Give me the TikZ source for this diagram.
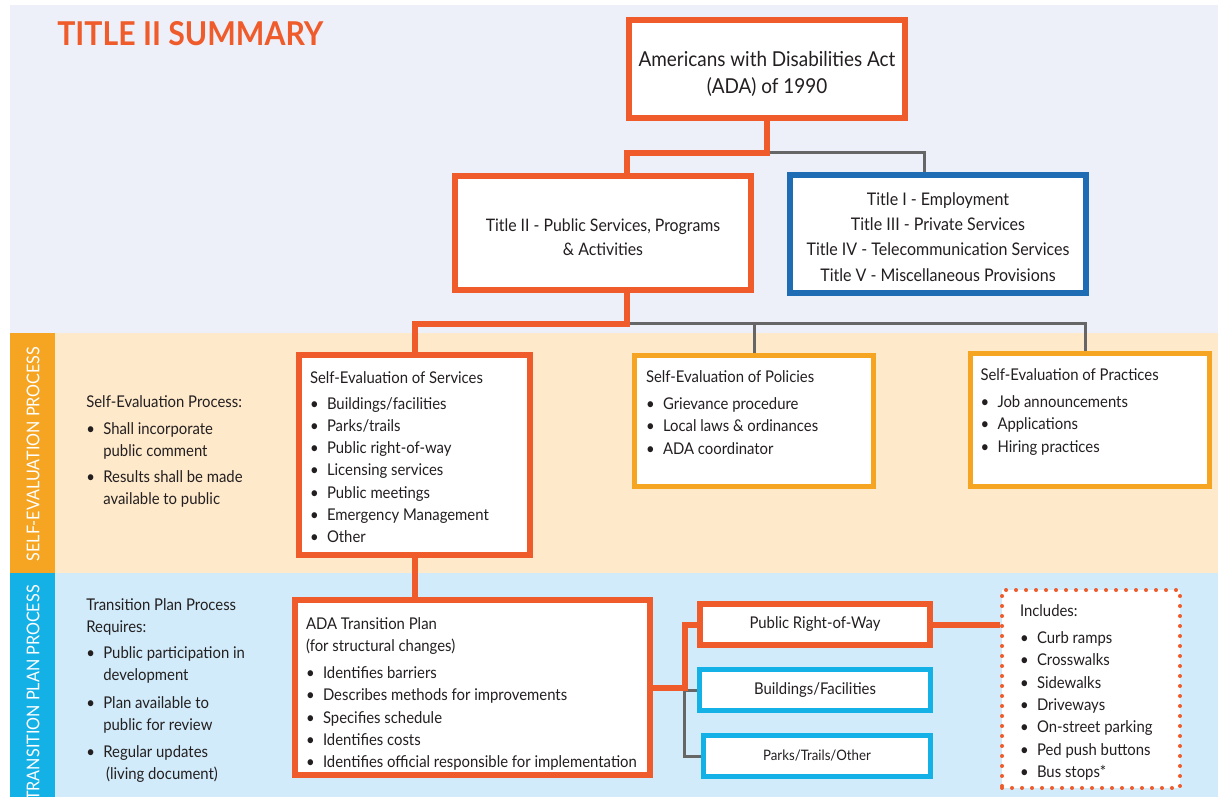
\documentclass[tikz,border=0pt]{standalone}
\usepackage{fontspec}
\setmainfont{Lato}[FakeStretch=0.92]
\usetikzlibrary{calc}

\definecolor{adaorange}{HTML}{EF5B2B}
\definecolor{adablue}{HTML}{1E6DB4}
\definecolor{adacyan}{HTML}{14B1E7}
\definecolor{adayellow}{HTML}{F6A523}
\definecolor{adagray}{HTML}{666666}
\definecolor{adatext}{HTML}{231F20}
\definecolor{bandtop}{HTML}{EDF0F8}
\definecolor{bandself}{HTML}{FEE9CB}
\definecolor{bandplan}{HTML}{D1EBFA}

\pgfdeclarelayer{back}
\pgfdeclarelayer{lines}
\pgfsetlayers{back,lines,main}

\newcommand{\bodysize}{\fontsize{9.2}{12.7}\selectfont}
\newcommand{\itm}{\makebox[0.34cm][l]{\textbullet}}
\newcommand{\gap}{\hspace*{0.34cm}}
\newcommand{\topbox}[4][0pt]{\parbox[t][#3][t]{#2}{\raggedright\vspace*{#1}#4}}
\newcommand{\midbox}[3]{\raisebox{#1}[\height][\depth]{\parbox{#2}{\centering #3}}}

\tikzset{
  obox/.style={draw=adaorange, line width=0.12cm, fill=white, text=adatext, font=\bodysize},
  bbox/.style={draw=adablue, line width=0.12cm, fill=white, text=adatext, font=\bodysize},
  ybox/.style={draw=adayellow, line width=0.1cm, fill=white, text=adatext, font=\bodysize},
  cbox/.style={draw=adacyan, line width=0.1cm, fill=white, text=adatext, font=\bodysize},
  dotbox/.style={draw=adaorange, line width=0.08cm, dash pattern=on 0pt off 0.2cm, line cap=round, fill=white, text=adatext, font=\bodysize},
  oline/.style={draw=adaorange, line width=0.12cm},
  gline/.style={draw=adagray, line width=0.06cm},
  sidetext/.style={text=white, rotate=90, inner sep=0pt, font=\fontsize{10}{12}\selectfont},
  notes/.style={anchor=north west, align=left, inner sep=0pt, text=adatext, font=\fontsize{9.2}{12.5}\selectfont},
}

\begin{document}
\begin{tikzpicture}[x=0.02cm,y=-0.02cm]
\useasboundingbox (0,0) rectangle (1218,797);
\begin{pgfonlayer}{back}
\fill[bandtop] (10,5) rectangle (1218,333);
\fill[bandself] (10,333) rectangle (1218,573);
\fill[bandplan] (10,573) rectangle (1218,797);
\fill[adayellow] (10,333) rectangle (55,573);
\fill[adacyan] (10,573) rectangle (55,797);
\end{pgfonlayer}

\node[sidetext] (sideself) at (33,454) {SELF-EVALUATION PROCESS};
\begin{scope}
\clip (10,573) rectangle (55,797);
\node[sidetext] (sideplan) at (33,693) {TRANSITION PLAN PROCESS};
\end{scope}

\node[anchor=west, inner sep=0pt, text=adaorange, font=\fontsize{18.7}{20}\selectfont\bfseries] (title) at (57,34) {TITLE II SUMMARY};

\node[obox, minimum width=5.52cm, minimum height=1.96cm, font=\fontsize{11.7}{15.3}\selectfont] (ada) at (767,69)
  {\midbox{-0.1cm}{5.2cm}{Americans with Disabilities Act\\(ADA) of 1990}};
\node[obox, minimum width=5.92cm, minimum height=2.28cm, font=\fontsize{9.8}{13.8}\selectfont] (t2) at (603,233)
  {\midbox{-0.09cm}{5.6cm}{Title II - Public Services, Programs\\\& Activities}};
\node[bbox, minimum width=5.92cm, minimum height=2.36cm, font=\fontsize{9.9}{14.4}\selectfont] (others) at (938,234)
  {\midbox{-0.06cm}{5.6cm}{Title I - Employment\\Title III - Private Services\\Title IV - Telecommunication Services\\Title V - Miscellaneous Provisions}};

\node[obox, inner xsep=0.22cm, inner ysep=0.28cm, font=\fontsize{9.2}{12.55}\selectfont] (svc) at (414.5,455) {\topbox[1.6pt]{4.18cm}{3.44cm}{Self-Evaluation of Services\\[2.3pt]
  \itm Buildings/facilities\\ \itm Parks/trails\\ \itm Public right-of-way\\ \itm Licensing services\\
  \itm Public meetings\\ \itm Emergency Management\\ \itm Other}};
\node[ybox, inner xsep=0.23cm, inner ysep=0.28cm] (pol) at (754,421) {\topbox[0.8pt]{4.32cm}{2.06cm}{Self-Evaluation of Policies\\[2.5pt]
  \itm Grievance procedure\\ \itm Local laws \& ordinances\\ \itm ADA coordinator}};
\node[ybox, inner xsep=0.2cm, inner ysep=0.26cm] (prac) at (1090,420) {\topbox[1.4pt]{4.38cm}{2.14cm}{Self-Evaluation of Practices\\[2.5pt]
  \itm Job announcements\\ \itm Applications\\ \itm Hiring practices}};

\node[notes] (selfnote) at (86,395.5) {Self-Evaluation Process:\\[2.5pt]
  \itm Shall incorporate\\ \gap public comment\\[2.5pt]
  \itm Results shall be made\\ \gap available to public};

\node[obox, inner xsep=0.22cm, inner ysep=0.28cm] (plan) at (472.5,687.5) {\topbox[2pt]{6.66cm}{2.94cm}{ADA Transition Plan\\(for structural changes)\\[2.5pt]
  \itm Identifies barriers\\ \itm Describes methods for improvements\\ \itm Specifies schedule\\
  \itm Identifies costs\\ \itm Identifies official responsible for implementation}};

\node[notes] (plannote) at (86,598) {Transition Plan Process\\Requires:\\[2.5pt]
  \itm Public participation in\\ \gap development\\[3.2pt]
  \itm Plan available to\\ \gap public for review\\[3.2pt]
  \itm Regular updates\\ \gap\,(living document)};

\node[obox, minimum width=4.6cm, minimum height=0.82cm] (prw) at (815,624.5) {Public Right-of-Way};
\node[cbox, minimum width=4.62cm, minimum height=0.82cm] (bld) at (815,690) {Buildings/Facilities};
\node[cbox, minimum width=4.54cm, minimum height=0.82cm, font=\fontsize{8.2}{10}\selectfont] (prk) at (817,756) {Parks/Trails/Other};

\node[dotbox, inner xsep=0.36cm, inner ysep=0.3cm] (inc) at (1091,689) {\topbox{2.84cm}{3.36cm}{Includes:\\[2.5pt]
  \itm Curb ramps\\ \itm Crosswalks\\ \itm Sidewalks\\ \itm Driveways\\
  \itm On-street parking\\ \itm Ped push buttons\\ \itm Bus stops*}};

\begin{pgfonlayer}{lines}
\draw[gline] ($(ada.south)+(0,32)$) -| ([xshift=-0.28cm]others.north);
\draw[oline] (ada.south) -- ++(0,32) -| ([xshift=0.48cm]t2.north);
\draw[gline] ($(t2.south)+(24,31)$) -| ([xshift=-0.1cm]prac.north);
\draw[gline] (pol.north) |- ($(t2.south)+(24,31)$);
\draw[oline] ([xshift=0.48cm]t2.south) -- ++(0,31) -| (svc.north);
\draw[oline] (svc.south) -- (svc.south |- plan.north);
\draw[gline] ($(plan.east)+(32,0)$) |- (bld.west);
\draw[gline] ($(plan.east)+(32,0)$) |- (prk.west);
\draw[oline] (plan.east) -- ++(32,0) |- (prw.west);
\draw[oline] (prw.east) -- (prw.east -| inc.west);
\end{pgfonlayer}
\end{tikzpicture}
\end{document}
